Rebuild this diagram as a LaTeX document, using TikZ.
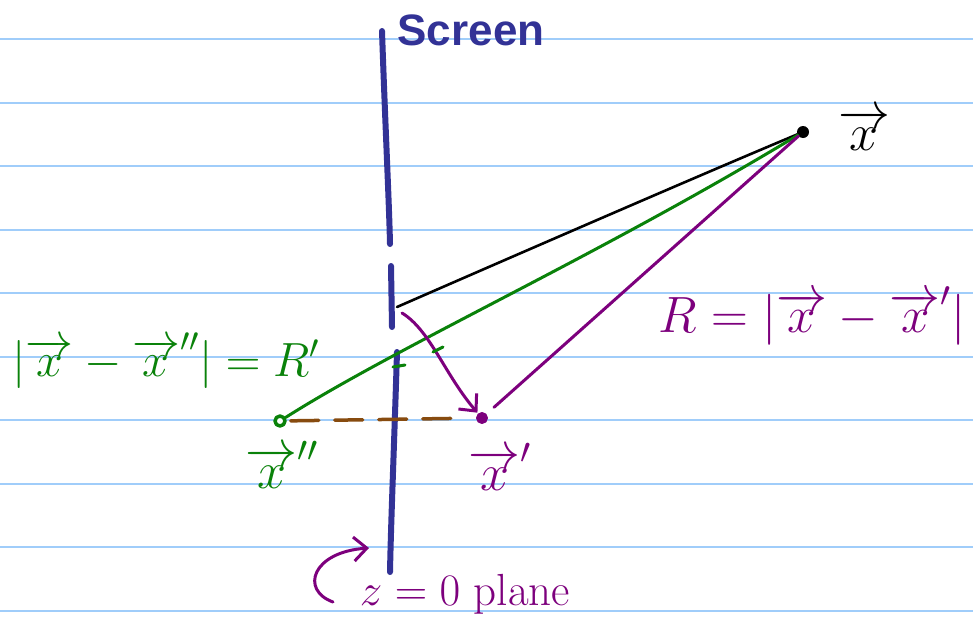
\RequirePackage{fix-cm}
\documentclass[tikz,border=0pt]{standalone}
\usepackage{fontspec}
\usetikzlibrary{arrows.meta}
\newfontfamily\handsans{Liberation Sans}
\definecolor{rulecol}{RGB}{160,205,250}
\definecolor{navy}{RGB}{50,50,150}
\definecolor{pgreen}{RGB}{10,130,10}
\definecolor{ppurple}{RGB}{125,0,125}
\definecolor{pbrown}{RGB}{135,75,15}
\begin{document}
\begin{tikzpicture}[x=1pt,y=-1pt, line cap=round, line join=round,
  ruled/.style={rulecol, line width=2pt},
  ink/.style={line width=3pt},
  screenink/.style={navy, line width=6pt},
  lbl/.style={inner sep=0pt, anchor=base},
  barb/.style={-{Straight Barb[length=13pt,width=24pt,line width=3pt]}},
  big/.style={font=\fontsize{48}{56}\selectfont},
  bigger/.style={font=\fontsize{52}{60}\selectfont}]
\path[use as bounding box] (0,0) rectangle (973,616);
\fill[white] (0,0) rectangle (973,616);
\foreach \y in {39,102.5,166,229.5,293,356.5,420,483.5,547,610.5}
  \draw[ruled] (0,\y) -- (973,\y);
% screen
\draw[screenink] (382,31) .. controls (385,120) and (389,200) .. (390,244);
\draw[screenink] (391,266) -- (392,327);
\draw[screenink] (397,352) .. controls (394,450) and (391,520) .. (390,572);
% points
\node[circle, fill=black, inner sep=0pt, minimum size=12pt] (X) at (803,132) {};
\node[circle, draw=pgreen, line width=3.5pt, fill=white, inner sep=0pt, minimum size=10pt] (X2) at (280,421) {};
\node[circle, fill=ppurple, draw=ppurple, line width=1pt, inner sep=0pt, minimum size=11pt] (X1) at (482,418) {};
\coordinate (bs) at (397,307);
\coordinate (ps) at (402,313);
\coordinate (cs) at (333,602);
\coordinate (ce) at (369,548);
% connectors
\draw[black, line width=2.6pt] (bs) .. controls (500,262) and (700,175) .. (X);
\draw[pgreen, ink] (X2) .. controls (400,345) and (600,255) .. (X);
\draw[ppurple, ink, shorten <=10pt] (X1) -- (X);
\draw[ppurple, ink, barb, shorten >=1pt] (ps) .. controls (430,330) and (445,375) .. (X1);
\draw[pbrown, line width=3.5pt, dash pattern=on 28pt off 16pt, shorten <=4pt, shorten >=18pt] (X2) -- (X1);
\draw[pgreen, ink] (393,367) -- (405,365);
\draw[pgreen, ink] (433,352) -- (443,347);
\draw[ppurple, ink, barb] (cs) .. controls (300,590) and (312,552) .. (ce);
% labels
\node[lbl, navy, font=\fontsize{44}{50}\selectfont\handsans\bfseries] (scr) at (471,45) {Screen};
\node[lbl, pgreen, big] (gf) at (166,376) {$|\overrightarrow{x}-\overrightarrow{x}''|=R'$};
\node[lbl, ppurple, font=\fontsize{51}{58}\selectfont] (pf) at (812,332) {$R=|\overrightarrow{x}-\overrightarrow{x}'|$};
\node[lbl, pgreen, bigger] (l2) at (282,488) {$\overrightarrow{x}''$};
\node[lbl, ppurple, bigger] (l1) at (500,490) {$\overrightarrow{x}'$};
\node[lbl, black, bigger] (l0) at (864,150) {$\overrightarrow{x}$};
\node[lbl, ppurple, font=\fontsize{45}{50}\selectfont] (zp) at (465,605) {$z=0$ plane};
\end{tikzpicture}
\end{document}
